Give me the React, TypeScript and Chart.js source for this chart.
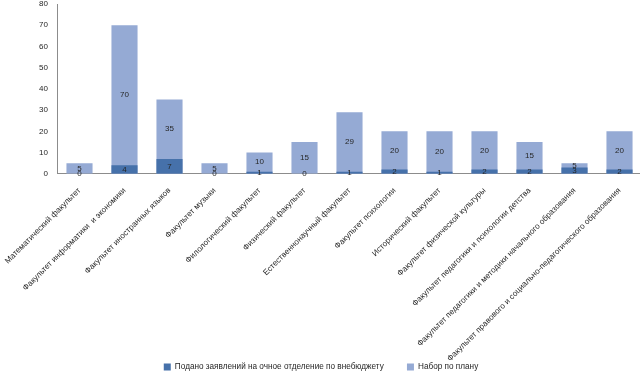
import { useEffect, useRef } from "react";
import { Chart, registerables } from "chart.js";

Chart.register(...registerables);

const categories = [
  "Математический факультет",
  "Факультет информатики  и экономики",
  "Факультет иностранных языков",
  "Факультет музыки",
  "Филологический факультет",
  "Физический факультет",
  "Естественнонаучный факультет",
  "Факультет психологии",
  "Исторический факультет",
  "Факультет физической культуры",
  "Факультет педагогики и психологии детства",
  "Факультет педагогики и методики начального образования",
  "Факультет правового и социально-педагогического образования",
];

const applied = [0, 4, 7, 0, 1, 0, 1, 2, 1, 2, 2, 3, 2];
const plan = [5, 70, 35, 5, 10, 15, 29, 20, 20, 20, 15, 5, 20];

const seriesNames = [
  "Подано заявлений на очное отделение по внебюджету",
  "Набор по плану",
];

const yMin = 0;
const yMax = 80;
const yStep = 10;

const FONT = "'Liberation Sans', Arial, sans-serif";
const DARK = "#4671AA";
const LIGHT = "#95AAD4";
const TEXT = "#262626";
const GAP = "\u00A0".repeat(8);

const labelPlugin = {
  id: "barLabels",
  afterLayout(chart: any) {
    const xs = chart.scales.x;
    if (xs) xs._computeLabelArea = () => undefined;
  },
  afterDatasetsDraw(chart: any) {
    const ctx = chart.ctx;
    const y = chart.scales.y;
    ctx.save();
    ctx.font = `8px ${FONT}`;
    ctx.fillStyle = TEXT;
    ctx.textAlign = "center";
    ctx.textBaseline = "middle";
    const m0 = chart.getDatasetMeta(0);
    const m1 = chart.getDatasetMeta(1);
    m1.data.forEach((bar: any, i: number) => {
      const cy = y.getPixelForValue((applied[i] + plan[i]) / 2);
      ctx.fillText(String(plan[i]), bar.x, cy);
    });
    m0.data.forEach((bar: any, i: number) => {
      const cy = y.getPixelForValue(applied[i] / 2);
      ctx.fillText(String(applied[i]), bar.x, cy);
    });
    ctx.restore();
  },
};

export default function App() {
  const ref = useRef<HTMLCanvasElement | null>(null);

  useEffect(() => {
    if (!ref.current) return;
    const chart = new Chart(ref.current, {
      type: "bar",
      data: {
        labels: categories,
        datasets: [
          {
            label: seriesNames[0],
            data: applied,
            backgroundColor: DARK,
            barPercentage: 0.58,
            categoryPercentage: 1,
          },
          {
            label: seriesNames[1],
            data: plan,
            backgroundColor: LIGHT,
            barPercentage: 0.58,
            categoryPercentage: 1,
          },
        ],
      },
      options: {
        responsive: false,
        animation: false,
        devicePixelRatio: 1,
        layout: { padding: { left: 0, right: 0, top: 0, bottom: -1 } },
        plugins: {
          legend: {
            position: "bottom",
            labels: {
              boxWidth: 7,
              boxHeight: 7,
              padding: 5,
              color: TEXT,
              font: { size: 8.2, family: FONT },
              generateLabels(chart: any) {
                const items = Chart.defaults.plugins.legend.labels.generateLabels(chart);
                return items.map((it: any, i: number) => ({
                  ...it,
                  text: i === 0 ? it.text + GAP : it.text,
                }));
              },
            },
          },
          tooltip: { enabled: false },
        },
        scales: {
          x: {
            stacked: true,
            grid: { display: false, drawTicks: false },
            border: { display: true, color: "#8c8c8c" },
            ticks: {
              autoSkip: false,
              maxRotation: 45,
              minRotation: 45,
              padding: 12,
              color: TEXT,
              font: { size: 8.1, family: FONT },
            },
            afterFit(s: any) {
              s.paddingLeft = 0;
              s.paddingRight = 0;
              s.height = 184;
            },
          },
          y: {
            stacked: false,
            min: yMin,
            max: yMax,
            grid: { display: false, drawTicks: false },
            border: { display: true, color: "#8c8c8c" },
            ticks: {
              stepSize: yStep,
              padding: 9,
              color: TEXT,
              font: { size: 8, family: FONT },
            },
            afterFit(s: any) {
              s.width = 57;
              s.paddingTop = 4;
              s.paddingBottom = 0;
            },
          },
        },
      },
      plugins: [labelPlugin],
    } as any);
    return () => chart.destroy();
  }, []);

  return (
    <div
      style={{
        position: "fixed",
        left: 0,
        top: 0,
        width: 640,
        height: 380,
        overflow: "hidden",
        background: "#fff",
      }}
    >
      <canvas ref={ref} width={642} height={380} style={{ width: 642, height: 380, display: "block" }} />
    </div>
  );
}
